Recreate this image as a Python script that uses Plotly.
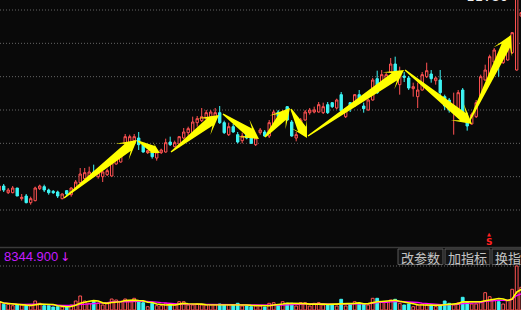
import math
import pandas as pd
import plotly.graph_objects as go

# ---------------- data ----------------
idx = list(range(-1, 116))

opens = [8.79, 8.86, 8.76, 8.76, 8.83, 8.67, 8.71, 8.61, 8.64, 8.82,
         8.85, 8.80, 8.78, 8.77, 8.67, 8.79, 8.73, 8.82, 8.91, 8.97,
         9.01, 9.07, 9.00, 9.00, 9.03, 9.01, 9.19, 9.22, 9.49, 9.51,
         9.54, 9.58, 9.48, 9.36, 9.37, 9.28, 9.36, 9.37, 9.52, 9.45,
         9.49, 9.58, 9.66, 9.66, 9.81, 9.84, 9.87, 9.90, 9.88, 9.96,
         9.81, 9.63, 9.75, 9.63, 9.54, 9.66, 9.60, 9.48, 9.66, 9.67,
         9.61, 9.75, 9.97, 9.85, 10.05, 9.82, 9.58, 9.75, 9.85, 9.96,
         9.97, 9.97, 9.96, 10.08, 10.11, 10.03, 10.23, 9.90, 10.11, 10.06,
         10.23, 10.06, 10.00, 10.15, 10.47, 10.41, 10.45, 10.57, 10.69, 10.38,
         10.51, 10.48, 10.32, 10.20, 10.30, 10.50, 10.54, 10.44, 10.45, 10.20,
         10.15, 10.03, 9.97, 10.30, 9.84, 9.79, 9.90, 10.20, 10.45, 10.50,
         10.72, 10.75, 10.71, 10.75, 10.86, 10.60, 11.41]

closes = [8.86, 8.80, 8.80, 8.83, 8.71, 8.69, 8.61, 8.67, 8.83, 8.86,
          8.80, 8.76, 8.76, 8.71, 8.74, 8.74, 8.83, 8.92, 9.04, 9.06,
          9.07, 9.01, 9.06, 9.07, 9.09, 9.21, 9.31, 9.37, 9.60, 9.60,
          9.60, 9.48, 9.37, 9.39, 9.30, 9.37, 9.40, 9.51, 9.48, 9.51,
          9.60, 9.67, 9.72, 9.82, 9.87, 9.90, 9.96, 9.97, 9.96, 9.81,
          9.66, 9.75, 9.67, 9.52, 9.61, 9.58, 9.50, 9.58, 9.70, 9.61,
          9.81, 9.97, 9.90, 9.97, 9.85, 9.61, 9.63, 9.85, 9.97, 10.00,
          10.00, 10.08, 10.05, 9.96, 10.05, 10.15, 9.99, 10.02, 10.05, 10.23,
          10.15, 10.02, 10.15, 10.45, 10.26, 10.53, 10.53, 10.69, 10.53, 10.57,
          10.49, 10.33, 10.35, 10.30, 10.53, 10.59, 10.47, 10.48, 10.26, 10.06,
          10.00, 10.06, 10.26, 9.94, 9.76, 9.93, 10.11, 10.50, 10.60, 10.80,
          10.90, 10.71, 10.86, 10.95, 11.16, 11.75, 11.46]

highs = [8.88, 8.89, 8.83, 8.86, 8.83, 8.74, 8.74, 8.70, 8.85, 8.88,
         8.88, 8.82, 8.80, 8.79, 8.75, 8.80, 8.84, 8.95, 9.13, 9.13,
         9.15, 9.18, 9.07, 9.09, 9.12, 9.27, 9.34, 9.40, 9.64, 9.63,
         9.64, 9.67, 9.49, 9.40, 9.39, 9.39, 9.42, 9.57, 9.60, 9.54,
         9.61, 9.73, 9.75, 9.90, 9.91, 10.03, 10.00, 10.00, 10.03, 10.06,
         9.84, 9.81, 9.79, 9.67, 9.66, 9.69, 9.63, 9.60, 9.73, 9.70,
         9.85, 10.00, 10.00, 10.00, 10.06, 9.85, 9.67, 9.88, 10.00, 10.03,
         10.05, 10.12, 10.11, 10.12, 10.12, 10.17, 10.27, 10.03, 10.12, 10.24,
         10.30, 10.11, 10.17, 10.48, 10.59, 10.60, 10.56, 10.78, 10.80, 10.65,
         10.57, 10.51, 10.41, 10.41, 10.57, 10.71, 10.60, 10.50, 10.60, 10.23,
         10.18, 10.26, 10.30, 10.33, 9.96, 9.96, 10.15, 10.53, 10.68, 10.83,
         10.93, 10.83, 10.90, 10.98, 11.17, 11.80, 11.47]

lows = [8.77, 8.77, 8.74, 8.75, 8.71, 8.64, 8.60, 8.58, 8.63, 8.80,
        8.77, 8.73, 8.74, 8.68, 8.66, 8.70, 8.70, 8.80, 8.88, 8.91,
        9.00, 9.00, 8.97, 8.92, 9.01, 9.00, 9.18, 9.21, 9.46, 9.48,
        9.52, 9.40, 9.36, 9.34, 9.27, 9.24, 9.34, 9.36, 9.46, 9.44,
        9.44, 9.56, 9.55, 9.64, 9.75, 9.82, 9.85, 9.88, 9.86, 9.79,
        9.64, 9.61, 9.66, 9.50, 9.50, 9.56, 9.49, 9.46, 9.63, 9.60,
        9.58, 9.74, 9.88, 9.84, 9.84, 9.60, 9.53, 9.73, 9.84, 9.93,
        9.95, 9.96, 9.94, 9.94, 10.03, 10.01, 9.97, 9.88, 9.97, 10.05,
        10.14, 9.96, 9.99, 10.14, 10.24, 10.39, 10.44, 10.56, 10.51, 10.23,
        10.42, 10.30, 10.20, 10.03, 10.29, 10.48, 10.41, 10.38, 10.20, 10.00,
        9.96, 9.63, 9.96, 9.93, 9.69, 9.78, 9.88, 10.18, 10.44, 10.48,
        10.71, 10.50, 10.69, 10.74, 10.84, 10.59, 11.40]

volumes = [8300, 5700, 5700, 4300, 5000, 5000, 4300, 4300, 9000, 6700,
           4300, 4300, 3000, 3300, 3000, 3000, 5000, 9000, 14000, 9000,
           6700, 8300, 6700, 5000, 6700, 11000, 10000, 8300, 11000, 8300,
           11700, 8300, 7300, 3300, 6700, 4300, 4300, 6700, 5000, 5000,
           8300, 8300, 5000, 5000, 6000, 5000, 5000, 5000, 5000, 6000,
           5000, 5000, 5000, 6700, 4000, 4000, 3300, 4000, 4000, 3000,
           6700, 7300, 5000, 8300, 6700, 6700, 4000, 7300, 7300, 4000,
           6700, 7300, 5000, 5000, 5000, 4000, 10700, 4000, 6000, 8300,
           6700, 6000, 5000, 11700, 11700, 8300, 8300, 10000, 10700, 6700,
           5000, 6000, 3300, 5000, 6000, 5000, 5000, 3300, 4000, 9000,
           6700, 5000, 7300, 12700, 8300, 6000, 6000, 8300, 17300, 13300,
           10000, 8300, 6000, 10000, 20700, 44000, 22700]

# trend arrows drawn on the chart: (start index, start price, end index, end price)
arrow_x0 = [13.40, 29.84, 37.18, 48.73, 58.07, 63.84, 67.62, 89.18, 103.40]
arrow_p0 = [8.680, 9.535, 9.370, 9.940, 9.595, 10.015, 9.610, 10.600, 9.820]
arrow_x1 = [29.62, 34.73, 47.84, 56.73, 63.62, 67.40, 88.96, 104.07, 112.73]
arrow_p1 = [9.550, 9.355, 9.925, 9.565, 10.030, 9.580, 10.600, 9.790, 11.125]

grid_prices = [11.5, 11.0, 10.5, 10.0, 9.5, 9.0, 8.5]
vol_grid = [44000]

max_label = "11.80"
vol_label = "8344.900"
buttons = ["改参数", "加指标", "换指标"]

# ---------------- style ----------------
W, H = 521, 310
BG = "#090909"
RED = "#ff5252"
CYAN = "#3df4f4"
GRID = "#666666"
YEL = "#ffff00"

X0, X1 = -0.822, 114.956
PMIN, PMAX = 7.945, 11.65
VOL_TOP_PX = 248
MAIN_BOTTOM_PX = 247
main_dom_low = (H - MAIN_BOTTOM_PX) / H
vol_dom_high = (H - VOL_TOP_PX) / H
H_MAIN = MAIN_BOTTOM_PX


def to_px(x, p):
    return ((x - X0) / (X1 - X0) * W, (PMAX - p) / (PMAX - PMIN) * H_MAIN)


def from_px(px, py):
    return (X0 + px / W * (X1 - X0), PMAX - py / H_MAIN * (PMAX - PMIN))


def arrow_path(x0, p0, x1, p1):
    ax, ay = to_px(x0, p0)
    bx, by = to_px(x1, p1)
    dx, dy = bx - ax, by - ay
    L = math.hypot(dx, dy)
    ux, uy = dx / L, dy / L
    nx, ny = -uy, ux
    hl = min(19.0, 0.5 * L)
    hw = hl * 0.55
    w1 = min(4.6, hl * 0.3)
    w0 = 0.7
    pts = [
        (ax + nx * w0, ay + ny * w0),
        (bx - ux * hl * 0.62 + nx * w1, by - uy * hl * 0.62 + ny * w1),
        (bx - ux * hl + nx * hw, by - uy * hl + ny * hw),
        (bx, by),
        (bx - ux * hl - nx * hw, by - uy * hl - ny * hw),
        (bx - ux * hl * 0.62 - nx * w1, by - uy * hl * 0.62 - ny * w1),
        (ax - nx * w0, ay - ny * w0),
    ]
    d = []
    for k, (px, py) in enumerate(pts):
        x, p = from_px(px, py)
        d.append(("M" if k == 0 else "L") + f"{x:.4f},{p:.4f}")
    return " ".join(d) + " Z"


def pxx(x):
    return x / W


def pxy(y):
    return 1 - y / H


fig = go.Figure()

fig.add_trace(go.Candlestick(
    x=idx, open=opens, high=highs, low=lows, close=closes,
    increasing=dict(line=dict(color=RED, width=1), fillcolor=BG),
    decreasing=dict(line=dict(color=CYAN, width=1), fillcolor=CYAN),
    whiskerwidth=0, hoverinfo="skip", xaxis="x", yaxis="y",
))

up = [c >= o for o, c in zip(opens, closes)]
fig.add_trace(go.Bar(
    x=idx, y=volumes, width=0.62, xaxis="x", yaxis="y2",
    marker=dict(color=[BG if u else CYAN for u in up],
                line=dict(color=[RED if u else CYAN for u in up], width=1)),
    hoverinfo="skip",
))

vs = pd.Series(volumes, dtype=float)
ma5 = vs.rolling(5, min_periods=1).mean()
ma10 = vs.rolling(10, min_periods=1).mean()
fig.add_trace(go.Scatter(x=idx, y=ma10, mode="lines", line=dict(color="#ff00ff", width=1.3),
                         xaxis="x", yaxis="y2", hoverinfo="skip"))
fig.add_trace(go.Scatter(x=idx, y=ma5, mode="lines", line=dict(color=YEL, width=1.6),
                         xaxis="x", yaxis="y2", hoverinfo="skip"))

shapes = []
for gp in grid_prices:
    shapes.append(dict(type="line", xref="paper", yref="y", x0=0, x1=1, y0=gp, y1=gp,
                       line=dict(color=GRID, width=1, dash="1px,2px"), layer="below"))
for gv in vol_grid:
    shapes.append(dict(type="line", xref="paper", yref="y2", x0=0, x1=1, y0=gv, y1=gv,
                       line=dict(color=GRID, width=1, dash="1px,2px"), layer="below"))
shapes.append(dict(type="line", xref="paper", yref="paper", x0=0, x1=1,
                   y0=pxy(247.5), y1=pxy(247.5), line=dict(color="#3a3a3a", width=1.5)))

for a0, b0, a1, b1 in zip(arrow_x0, arrow_p0, arrow_x1, arrow_p1):
    shapes.append(dict(type="path", xref="x", yref="y", path=arrow_path(a0, b0, a1, b1),
                       fillcolor=YEL, line=dict(width=0), layer="above"))

# button boxes
btn_x = [(398, 443), (445, 490), (492, 537)]
for (bx0, bx1) in btn_x:
    shapes.append(dict(type="rect", xref="paper", yref="paper",
                       x0=pxx(bx0), x1=pxx(bx1), y0=pxy(264.5), y1=pxy(249),
                       fillcolor="#141414", line=dict(color="#5a5a5a", width=1)))

annotations = [
    dict(text=vol_label, x=pxx(2), y=pxy(256), xref="paper", yref="paper",
         xanchor="left", yanchor="middle", showarrow=False,
         font=dict(family="Liberation Sans", size=13, color="#c41cff")),
    dict(text="↓", x=pxx(64.5), y=pxy(256.5), xref="paper", yref="paper",
         xanchor="center", yanchor="middle", showarrow=False,
         font=dict(family="DejaVu Sans", size=12, color="#e020ff")),
    dict(text=max_label, x=pxx(487), y=pxy(6), xref="paper", yref="paper",
         xanchor="center", yanchor="bottom", showarrow=False,
         font=dict(family="DejaVu Sans Mono", size=14, color="#f0f0f0")),
    dict(text="▲", x=pxx(489), y=pxy(234), xref="paper", yref="paper",
         xanchor="center", yanchor="middle", showarrow=False,
         font=dict(family="DejaVu Sans", size=5, color="#ff2020")),
    dict(text="<b>S</b>", x=pxx(489), y=pxy(242), xref="paper", yref="paper",
         xanchor="center", yanchor="middle", showarrow=False,
         font=dict(family="DejaVu Sans", size=9, color="#ff2020")),
]
for (bx0, bx1), label in zip(btn_x, buttons):
    annotations.append(dict(text=label, x=pxx(bx0 + 22.5), y=pxy(257), xref="paper", yref="paper",
                            xanchor="center", yanchor="middle", showarrow=False,
                            font=dict(family="Noto Sans CJK SC", size=13, color="#c4c4c4")))

fig.update_layout(
    width=W, height=H, margin=dict(l=0, r=0, t=0, b=0),
    paper_bgcolor=BG, plot_bgcolor=BG, showlegend=False,
    boxgap=0.25, bargap=0.3,
    xaxis=dict(range=[X0, X1], visible=False, showgrid=False, zeroline=False,
               rangeslider=dict(visible=False), fixedrange=True),
    yaxis=dict(domain=[main_dom_low, 1], range=[PMIN, PMAX], visible=False,
               showgrid=False, zeroline=False, fixedrange=True),
    yaxis2=dict(domain=[0, vol_dom_high], range=[0, 62000], visible=False,
                showgrid=False, zeroline=False, fixedrange=True),
    shapes=shapes, annotations=annotations,
)

fig.write_html("out.html")
